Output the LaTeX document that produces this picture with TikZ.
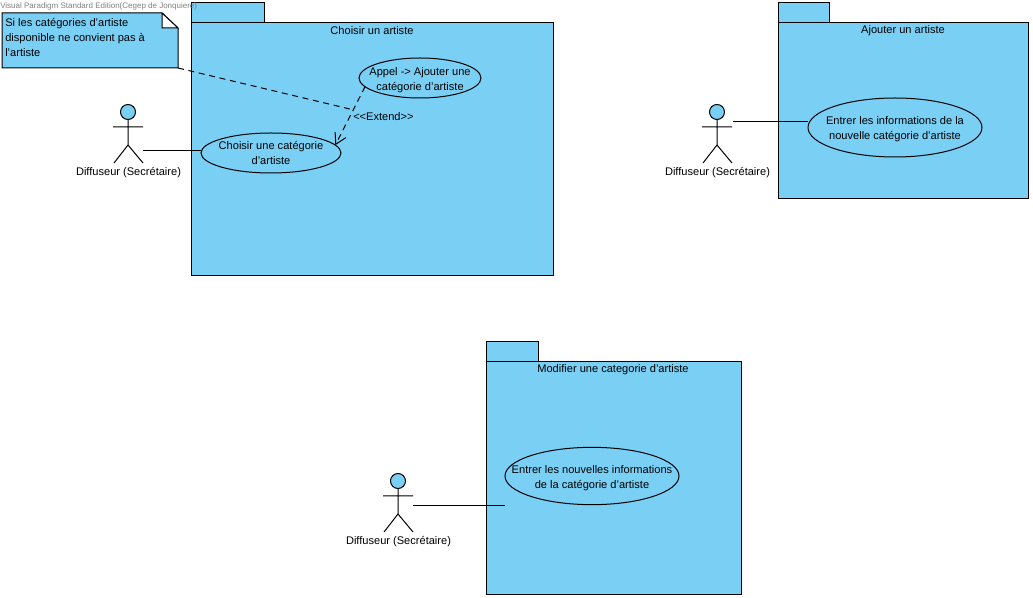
\documentclass[tikz,border=0pt]{standalone}
\usepackage{fontspec}
\setmainfont{Liberation Sans}[Ligatures=ResetAll]
\usetikzlibrary{shapes.geometric,arrows.meta}
\definecolor{umlblue}{HTML}{7ACFF5}
\newcommand{\casedown}{\rule{0pt}{9pt}}
\tikzset{
  pkgbox/.style={draw,fill=umlblue,line width=.75pt,anchor=north west,inner sep=0pt,outer sep=0pt},
  usecase/.style={draw,fill=umlblue,ellipse,line width=.75pt,inner xsep=-40pt,inner ysep=-15pt,outer sep=0pt,align=center,font=\fontsize{8.3}{11.25}\selectfont},
  lbl/.style={inner sep=0pt,font=\fontsize{8.3}{11.25}\selectfont},
  link/.style={line width=.75pt},
  extendlink/.style={line width=.75pt,dash pattern=on 4.5pt off 3.5pt},
  actorman/.pic={
    \draw[line width=.75pt,fill=umlblue] (0,-8) circle (7.5);
    \draw[line width=.75pt] (-15,7) -- (15,7) (0,0) -- (0,25) (-14,43) -- (0,25) -- (15,43);
  }
}
\begin{document}
\begin{tikzpicture}[x=.75pt,y=-.75pt]
  \useasboundingbox (0,0) rectangle (1033,598);
  % first package
  \node[pkgbox,minimum width=54.75pt,minimum height=15pt] (tabchoisir) at (191,2.7) {};
  \node[pkgbox,minimum width=271.5pt,minimum height=189.75pt] (pkgchoisir) at (191,22.7) {};
  \node[lbl] (titrechoisir) at (372,31) {Choisir un artiste};
  \node[usecase,minimum width=105pt,minimum height=30pt] (choisir) at (271,153) {Choisir une catégorie\\d'artiste};
  \node[usecase,minimum width=91.5pt,minimum height=30pt] (appel) at (420,78) {\casedown Appel -> Ajouter une\\catégorie d'artiste};
  % note
  \draw[fill=umlblue,line width=.75pt] (2,13) -- (162,13) -- (178,28) -- (178,68) -- (2,68) -- cycle;
  \draw[fill=white,line width=.75pt] (162,13) -- (162,28) -- (178,28) -- cycle;
  \node[lbl,anchor=north west,align=left] (note) at (5,18.5) {Si les catégories d'artiste\\disponible ne convient pas à\\l'artiste};
  \coordinate (notecorner) at (178,68);
  \coordinate (extendpoint) at (354,110);
  \draw[extendlink] (notecorner) -- (extendpoint);
  \draw[extendlink,-{Straight Barb[length=7.8pt,width=9pt]}] (appel.189) -- (choisir.7);
  \node[lbl,anchor=west] (extendlabel) at (353,116.5) {<{}<Extend>{}>};
  % second package
  \node[pkgbox,minimum width=38.25pt,minimum height=15pt] (tabajouter) at (778,2.7) {};
  \node[pkgbox,minimum width=187.5pt,minimum height=132pt] (pkgajouter) at (778,22.7) {};
  \node[lbl] (titreajouter) at (903,31) {Ajouter un artiste};
  \node[usecase,minimum width=130.5pt,minimum height=44.25pt] (entrer) at (895,127.5) {\casedown Entrer les informations de la\\nouvelle catégorie d'artiste};
  % third package
  \node[pkgbox,minimum width=39pt,minimum height=15pt] (tabmodifier) at (486,341.7) {};
  \node[pkgbox,minimum width=191.25pt,minimum height=174.75pt] (pkgmodifier) at (486,361.7) {};
  \node[lbl] (titremodifier) at (613,370) {Modifier une categorie d'artiste};
  \node[usecase,minimum width=130.5pt,minimum height=43pt] (nouvelles) at (592,476) {\casedown Entrer les nouvelles informations\\de la catégorie d'artiste};
  % actors
  \pic at (128,120) {actorman};
  \node[lbl] (diffuseura) at (128.5,173) {Diffuseur (Secrétaire)};
  \pic at (717,120) {actorman};
  \node[lbl] (diffuseurb) at (717.5,173) {Diffuseur (Secrétaire)};
  \pic at (398,489) {actorman};
  \node[lbl] (diffuseurc) at (398.5,542) {Diffuseur (Secrétaire)};
  \coordinate (mainA) at (143,151);
  \coordinate (mainB) at (733,121.5);
  \coordinate (mainC) at (413,505.5);
  \coordinate (finC) at (505,505.5);
  \draw[link] (mainA) -- (choisir.west |- mainA);
  \draw[link] (mainB) -- (entrer.west |- mainB);
  \draw[link] (mainC) -- (finC);
  \node[lbl,anchor=west,text=gray,font=\fontsize{6}{7}\selectfont] (watermark) at (0,6.5) {Visual Paradigm Standard Edition(Cegep de Jonquiere)};
\end{tikzpicture}
\end{document}
